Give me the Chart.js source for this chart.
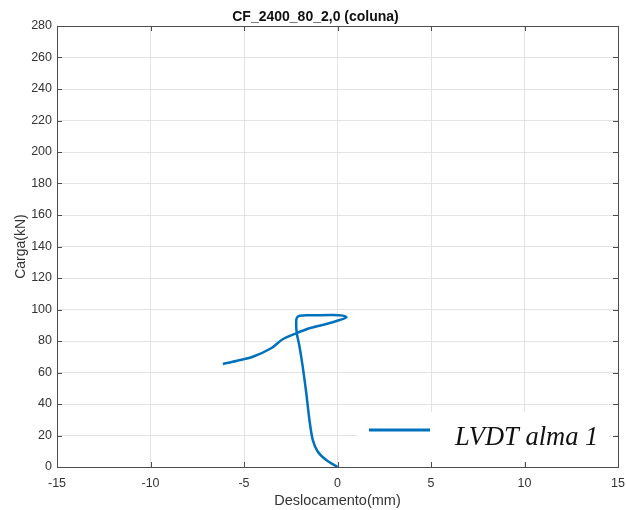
<!DOCTYPE html>
<html>
<head>
<meta charset="utf-8">
<script src="https://cdn.jsdelivr.net/npm/chart.js@4"></script>
<style>
  html, body { margin: 0; padding: 0; background: #fff; }
  #wrap { width: 626px; height: 510px; }
</style>
</head>
<body>
<div id="wrap"><canvas id="chart" width="626" height="510"></canvas></div>
<script>
// displacement (mm) and load (kN), in test order
const deslocamento = [0, -0.60, -1.05, -1.32, -1.50, -1.67, -1.86, -2.03, -2.18, -2.21, -2.18, -2.03,
    -1.32, -0.25, 0.28, 0.47, 0.11, -0.60, -1.50, -2.21, -2.93, -3.55, -4.53, -5.42, -6.13];
const carga = [0, 4.4, 9.7, 17.1, 29.8, 47.0, 63.7, 76.4, 85.1, 91.4, 94.6, 96.1,
    96.3, 96.5, 96.1, 95.0, 93.3, 90.8, 88.1, 84.9, 81.1, 75.4, 70.0, 67.3, 65.4];
const xTicks = [-15, -10, -5, 0, 5, 10, 15];
const yTicks = [0, 20, 40, 60, 80, 100, 120, 140, 160, 180, 200, 220, 240, 260, 280];
const seriesName = 'LVDT alma 1';
const chartTitle = 'CF_2400_80_2,0 (coluna)';

const points = deslocamento.map((x, i) => ({ x: x, y: carga[i] }));
const lineColor = '#0072BD';
const axisColor = '#4d4d4d';
const font = 'Liberation Sans, Arial, sans-serif';

// box around plot + inward tick marks, matlab style
const boxPlugin = {
    id: 'box',
    afterDraw(chart) {
        const c = chart.ctx;
        const a = chart.chartArea;
        const sx = chart.scales.x, sy = chart.scales.y;
        c.save();
        c.strokeStyle = axisColor;
        c.lineWidth = 1;
        c.beginPath();
        xTicks.forEach(v => {
            const px = Math.round(sx.getPixelForValue(v)) + 0.5;
            c.moveTo(px, a.bottom); c.lineTo(px, a.bottom - 5);
            c.moveTo(px, a.top); c.lineTo(px, a.top + 5);
        });
        yTicks.forEach(v => {
            const py = Math.round(sy.getPixelForValue(v)) + 0.5;
            c.moveTo(a.left, py); c.lineTo(a.left + 5, py);
            c.moveTo(a.right, py); c.lineTo(a.right - 5, py);
        });
        c.stroke();
        c.strokeRect(Math.round(a.left) + 0.5, Math.round(a.top) + 0.5,
            Math.round(a.right - a.left), Math.round(a.bottom - a.top));
        c.restore();
    }
};

// legend box sitting inside the plot, bottom right
const legendPlugin = {
    id: 'insideLegend',
    afterDatasetsDraw(chart) {
        const c = chart.ctx;
        const a = chart.chartArea;
        const x0 = 357, y0 = 412;
        const w = a.right - 3 - x0, h = 50;
        c.save();
        c.fillStyle = '#fff';
        c.fillRect(x0, y0, w, h);
        c.strokeStyle = lineColor;
        c.lineWidth = 3;
        c.beginPath();
        c.moveTo(369, 430);
        c.lineTo(430, 430);
        c.stroke();
        c.fillStyle = '#111';
        c.font = 'italic 26.5px "Liberation Serif", "Times New Roman", serif';
        c.textBaseline = 'middle';
        c.fillText(seriesName, 455, 438);
        c.restore();
    }
};

new Chart(document.getElementById('chart'), {
    type: 'scatter',
    data: {
        datasets: [{
            label: seriesName,
            data: points,
            showLine: true,
            borderColor: lineColor,
            borderWidth: 2.5,
            pointRadius: 0,
            tension: 0.3,
            fill: false
        }]
    },
    options: {
        responsive: false,
        animation: false,
        layout: { padding: { left: 13, right: 8, top: 0, bottom: 0 } },
        plugins: {
            legend: { display: false },
            tooltip: { enabled: false },
            title: {
                display: true,
                text: chartTitle,
                color: '#111',
                font: { family: font, size: 14, weight: 'bold' },
                padding: { top: 9, bottom: 0.2 }
            }
        },
        scales: {
            x: {
                type: 'linear',
                min: -15,
                max: 15,
                afterBuildTicks: s => { s.ticks = xTicks.map(v => ({ value: v })); },
                afterFit: s => { s.height = 43; s.paddingLeft = 0; s.paddingRight = 0; },
                grid: { color: '#e3e3e3', drawTicks: false },
                border: { color: axisColor },
                ticks: { color: '#333', font: { family: font, size: 12.5 }, padding: 9 },
                title: {
                    display: true,
                    text: 'Deslocamento(mm)',
                    color: '#333',
                    font: { family: font, size: 14.5 },
                    padding: { top: 0, bottom: 0 }
                }
            },
            y: {
                type: 'linear',
                min: 0,
                max: 280,
                afterBuildTicks: s => { s.ticks = yTicks.map(v => ({ value: v })); },
                afterFit: s => { s.width = 44; },
                grid: { color: '#e3e3e3', drawTicks: false },
                border: { color: axisColor },
                ticks: { color: '#333', font: { family: font, size: 12.5 }, padding: 5 },
                title: {
                    display: true,
                    text: 'Carga(kN)',
                    color: '#333',
                    font: { family: font, size: 14 },
                    padding: { top: 0, bottom: 0 }
                }
            }
        }
    },
    plugins: [legendPlugin, boxPlugin]
});
</script>
</body>
</html>
